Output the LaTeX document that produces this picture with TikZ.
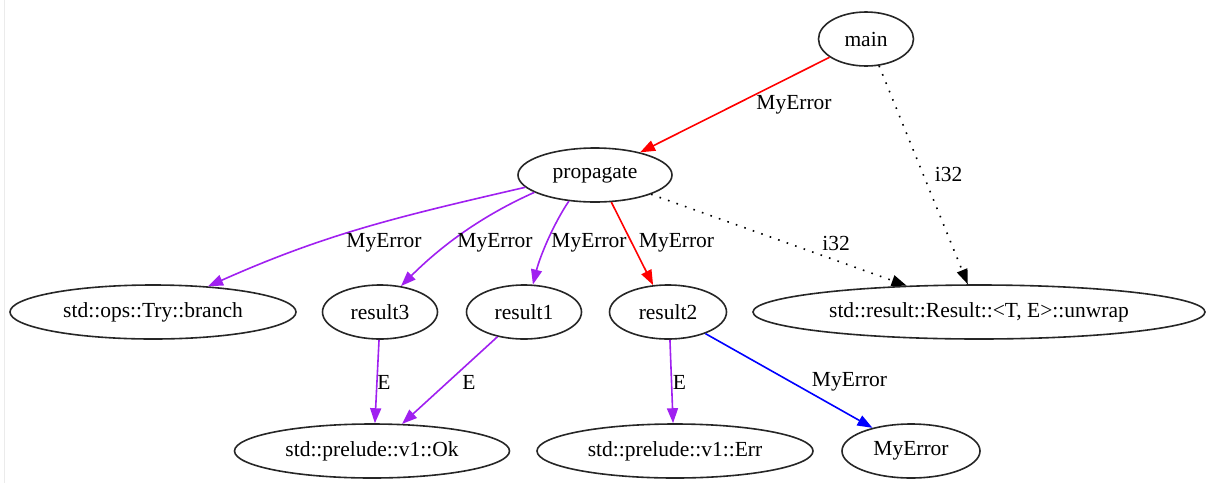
\documentclass[tikz,border=0pt]{standalone}
\usepackage{fontspec}
\setmainfont{Liberation Serif}
\usetikzlibrary{shapes.geometric,arrows.meta}
\definecolor{gvpurple}{HTML}{A020F0}
\definecolor{gvred}{HTML}{FF0000}
\definecolor{gvblue}{HTML}{0000FF}
\begin{document}
\begin{tikzpicture}[x=1pt,y=1pt,
  gnode/.style={draw=black!85, line width=1.6pt, ellipse, minimum height=54pt, inner sep=0pt,
    font=\fontsize{21.5}{25}\selectfont},
  elabel/.style={inner sep=0pt, font=\fontsize{21.5}{25}\selectfont},
  edge/.style={line width=1.6pt, -{Triangle[length=15pt,width=11pt]}},
  rededge/.style={edge, gvred},
  purpleedge/.style={edge, gvpurple},
  blueedge/.style={edge, gvblue},
  dotedge/.style={edge, black, dash pattern=on 1.6pt off 7.4pt}]
\useasboundingbox (0,0) rectangle (1210,-483);
\draw[black!8, line width=1pt] (4.5,0) -- (4.5,-483);

\node[gnode, minimum width=95pt]  (main)   at (866,-39)  {main};
\node[gnode, minimum width=154pt] (prop)   at (595,-175) {propagate};
\node[gnode, minimum width=286pt] (branch) at (153,-312) {std::ops::Try::branch};
\node[gnode, minimum width=115pt] (res3)   at (380,-312) {result3};
\node[gnode, minimum width=115pt] (res1)   at (524,-312) {result1};
\node[gnode, minimum width=117pt] (res2)   at (668,-312) {result2};
\node[gnode, minimum width=452pt] (unwrap) at (979,-312) {std::result::Result::<T, E>::unwrap};
\node[gnode, minimum width=275pt] (ok)     at (372,-451) {std::prelude::v1::Ok};
\node[gnode, minimum width=276pt] (err)    at (675,-451) {std::prelude::v1::Err};
\node[gnode, minimum width=138pt] (myerr)  at (911,-451) {MyError};

\draw[rededge] (main) -- (prop);
\draw[dotedge] (main.296) -- (unwrap.112);
\draw[dotedge] (prop.341) -- (unwrap.160);
\draw[rededge] (prop.301) -- (res2.119);
\draw[purpleedge] (prop.225) to[out=236,in=76,looseness=0.8] (res1.72);
\draw[purpleedge] (prop.196) to[out=204,in=45,looseness=0.9] (res3.51);
\draw[purpleedge] (prop.190) to[out=193,in=24] (branch.25);
\draw[purpleedge] (res3.268) -- (ok.84);
\draw[purpleedge] (res1.223) -- (ok.42);
\draw[purpleedge] (res2.274) -- (err.94);
\draw[blueedge] (res2.330) -- (myerr.149);

\node[elabel] (l1) at (794,-105) {MyError};
\node[elabel] (l2) at (948.5,-174) {i32};
\node[elabel] (l3) at (384,-243) {MyError};
\node[elabel] (l4) at (495,-243) {MyError};
\node[elabel] (l5) at (589,-243) {MyError};
\node[elabel] (l6) at (676.5,-243) {MyError};
\node[elabel] (l7) at (836,-243) {i32};
\node[elabel] (l8) at (384,-382) {E};
\node[elabel] (l9) at (469,-382) {E};
\node[elabel] (l10) at (679.5,-382) {E};
\node[elabel] (l11) at (849.5,-382) {MyError};
\end{tikzpicture}
\end{document}
